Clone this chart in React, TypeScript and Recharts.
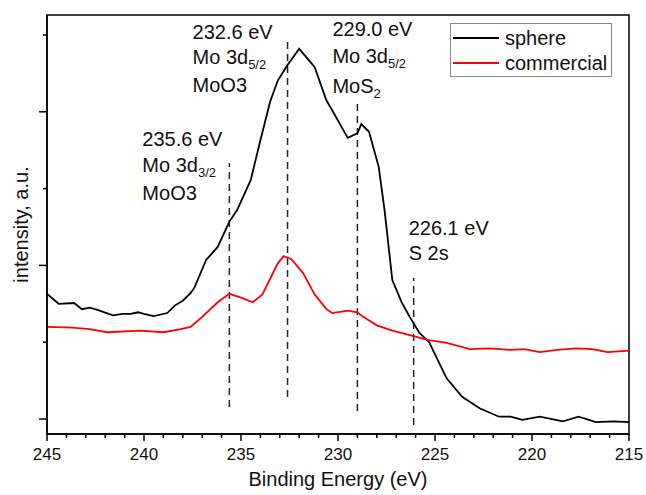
import React from 'react';
import { LineChart, Line, XAxis, YAxis, ReferenceLine, ReferenceArea, Legend } from 'recharts';

const FONT = '"Liberation Sans", Arial, Helvetica, sans-serif';

// ---- data ----
const seriesNames = ['sphere', 'commercial'];
const seriesColors = ['#000000', '#ff0000'];

const sphereEnergy = [245.0, 244.4, 243.6, 243.2, 242.8, 242.4, 241.6, 241.1, 240.7, 240.3, 240.0, 239.5, 238.8, 238.4, 238.0, 237.6, 237.4, 236.8, 236.2, 235.6, 235.2, 234.5, 234.0, 233.5, 233.1, 232.6, 232.0, 231.2, 230.6, 230.3, 229.5, 229.0, 228.8, 228.4, 227.9, 227.6, 227.2, 226.7, 226.3, 225.8, 225.3, 224.9, 224.4, 223.6, 222.7, 221.7, 221.1, 220.5, 219.6, 218.4, 217.6, 216.7, 215.8, 215.0];
const sphereIntensity = [1.63, 1.50, 1.51, 1.43, 1.45, 1.42, 1.35, 1.37, 1.37, 1.39, 1.37, 1.34, 1.38, 1.48, 1.54, 1.64, 1.71, 2.07, 2.24, 2.57, 2.72, 3.11, 3.63, 4.13, 4.41, 4.61, 4.82, 4.58, 4.15, 4.02, 3.66, 3.72, 3.84, 3.74, 3.28, 2.72, 1.81, 1.51, 1.33, 1.12, 1.00, 0.79, 0.53, 0.29, 0.14, 0.03, 0.03, -0.01, 0.03, -0.03, 0.03, -0.04, -0.03, -0.04];

const commercialEnergy = [245.0, 243.7, 242.8, 241.9, 240.2, 239.0, 238.1, 237.6, 237.0, 236.2, 235.6, 235.0, 234.4, 233.9, 233.1, 232.8, 232.4, 231.8, 231.2, 230.6, 230.3, 229.5, 229.0, 228.7, 228.0, 227.2, 226.1, 225.4, 224.4, 223.2, 222.2, 221.1, 220.4, 219.6, 218.7, 217.7, 216.9, 216.1, 215.0];
const commercialIntensity = [1.20, 1.19, 1.17, 1.13, 1.15, 1.13, 1.17, 1.20, 1.33, 1.52, 1.63, 1.58, 1.52, 1.62, 2.03, 2.12, 2.08, 1.90, 1.62, 1.43, 1.38, 1.41, 1.39, 1.33, 1.22, 1.15, 1.08, 1.03, 0.99, 0.91, 0.92, 0.90, 0.91, 0.87, 0.90, 0.92, 0.91, 0.87, 0.89];

const xMajorTicks = [245, 240, 235, 230, 225, 220, 215];
const xMinorStep = 1;
const yTicks = [0, 1, 2, 3, 4, 5];
const xDomain: [number, number] = [215, 245];
const yDomain: [number, number] = [-0.195, 5.26];

const xLabel = 'Binding Energy (eV)';
const yLabel = 'intensity, a.u.';

// annotation content: energy, dashed segment extent (intensity units), text lines
const annotationEnergies = [235.6, 232.6, 229.0, 226.1];
const annotationSpans = [[0.156, 3.33], [0.286, 4.97], [0.104, 4.11], [-0.078, 1.836]];
const annotationTexts = [
  [{ main: '235.6 eV' }, { main: 'Mo 3d', sub: '3/2' }, { main: 'MoO3' }],
  [{ main: '232.6 eV' }, { main: 'Mo 3d', sub: '5/2' }, { main: 'MoO3' }],
  [{ main: '229.0 eV' }, { main: 'Mo 3d', sub: '5/2' }, { main: 'MoS', sub: '2' }],
  [{ main: '226.1 eV' }, { main: 'S 2s' }],
];
// text placement relative to top of each dashed line (px)
const annotationLayout = [
  { dx: -87, dys: [-17, 9, 37] },
  { dx: -95, dys: [2, 27, 55] },
  { dx: -25, dys: [-67, -40, -10] },
  { dx: -5, dys: [-43, -18] },
];

const sphereData = sphereEnergy.map((e, i) => ({ e, v: sphereIntensity[i] }));
const commercialData = commercialEnergy.map((e, i) => ({ e, v: commercialIntensity[i] }));
const xTicks: number[] = [];
for (let t = xDomain[1]; t >= xDomain[0]; t -= xMinorStep) xTicks.push(t);

const XTick = (props: any) => {
  const { x, y, payload } = props;
  const major = xMajorTicks.includes(payload.value);
  return (
    <g>
      <line x1={x} x2={x} y1={y} y2={y + (major ? 7 : 4)} stroke="#000" strokeWidth={1.5} />
      {major && (
        <text x={x} y={y + 26} textAnchor="middle" fontSize={17} fontFamily={FONT} fill="#111">
          {payload.value}
        </text>
      )}
    </g>
  );
};

const YTick = (props: any) => {
  const { x, y, payload } = props;
  const major = payload.value % 2 === 0;
  return <line x1={x - (major ? 8 : 4)} x2={x} y1={y} y2={y} stroke="#000" strokeWidth={1.5} />;
};

const makeAnnotationLabel = (idx: number) => (props: any) => {
  const vb = props.viewBox || {};
  const { dx, dys } = annotationLayout[idx];
  return (
    <g>
      {annotationTexts[idx].map((ln: any, i: number) => (
        <text key={i} x={vb.x + dx} y={vb.y + dys[i]} fontSize={20} fontFamily={FONT} fill="#111">
          {ln.main}
          {ln.sub && (
            <tspan fontSize={13} dy={5}>
              {ln.sub}
            </tspan>
          )}
        </text>
      ))}
    </g>
  );
};

const LegendBox = () => (
  <svg width={162} height={54} style={{ display: 'block' }}>
    <rect x={0.5} y={0.5} width={161} height={53} fill="#fff" stroke="#8a8a8a" strokeWidth={1} />
    {seriesNames.map((name, i) => (
      <g key={name}>
        <line x1={3} x2={49} y1={15 + 25 * i} y2={15 + 25 * i} stroke={seriesColors[i]} strokeWidth={2} />
        <text x={55} y={22 + 25 * i} fontSize={20} fontFamily={FONT} fill="#111">
          {name}
        </text>
      </g>
    ))}
  </svg>
);

export default function App() {
  return (
    <div style={{ position: 'absolute', left: 0, top: 0, width: 646, height: 495, background: '#fff' }}>
      <LineChart width={646} height={495} margin={{ top: 15, right: 17, bottom: 31, left: 0 }}>
        <XAxis
          dataKey="e"
          type="number"
          domain={xDomain}
          reversed
          ticks={xTicks}
          interval={0}
          tick={<XTick />}
          tickLine={false}
          tickSize={0}
          tickMargin={0}
          height={30}
          axisLine={{ stroke: '#000', strokeWidth: 1.5 }}
          allowDataOverflow
          label={(p: any) => {
            const vb = p.viewBox || {};
            return (
              <text x={vb.x + vb.width / 2} y={486} textAnchor="middle" fontSize={20} fontFamily={FONT} fill="#111">
                {xLabel}
              </text>
            );
          }}
        />
        <YAxis
          type="number"
          domain={yDomain}
          ticks={yTicks}
          interval={0}
          width={47}
          tick={<YTick />}
          tickLine={false}
          tickSize={0}
          tickMargin={0}
          axisLine={{ stroke: '#000', strokeWidth: 1.5 }}
          allowDataOverflow
          label={(p: any) => {
            const vb = p.viewBox || {};
            const cy = vb.y + vb.height / 2;
            return (
              <text x={28} y={cy} transform={`rotate(-90, 28, ${cy})`} textAnchor="middle" fontSize={20} fontFamily={FONT} fill="#111">
                {yLabel}
              </text>
            );
          }}
        />
        <ReferenceArea x1={xDomain[1]} x2={xDomain[0]} y1={yDomain[0]} y2={yDomain[1]} fill="none" fillOpacity={0} stroke="#000" strokeWidth={1.5} ifOverflow="visible" />
        {annotationEnergies.map((e, i) => (
          <ReferenceLine
            key={e}
            segment={[{ x: e, y: annotationSpans[i][0] }, { x: e, y: annotationSpans[i][1] }]}
            stroke="#222"
            strokeWidth={1.5}
            strokeDasharray="7 5"
            ifOverflow="visible"
            label={makeAnnotationLabel(i)}
          />
        ))}
        <Line data={sphereData} dataKey="v" name={seriesNames[0]} stroke={seriesColors[0]} strokeWidth={1.8} dot={false} type="linear" isAnimationActive={false} />
        <Line data={commercialData} dataKey="v" name={seriesNames[1]} stroke={seriesColors[1]} strokeWidth={1.8} dot={false} type="linear" isAnimationActive={false} />
        <Legend layout="vertical" align="center" verticalAlign="middle" wrapperStyle={{ left: 450, top: 23, width: 162, height: 54 }} content={() => <LegendBox />} />
      </LineChart>
    </div>
  );
}
